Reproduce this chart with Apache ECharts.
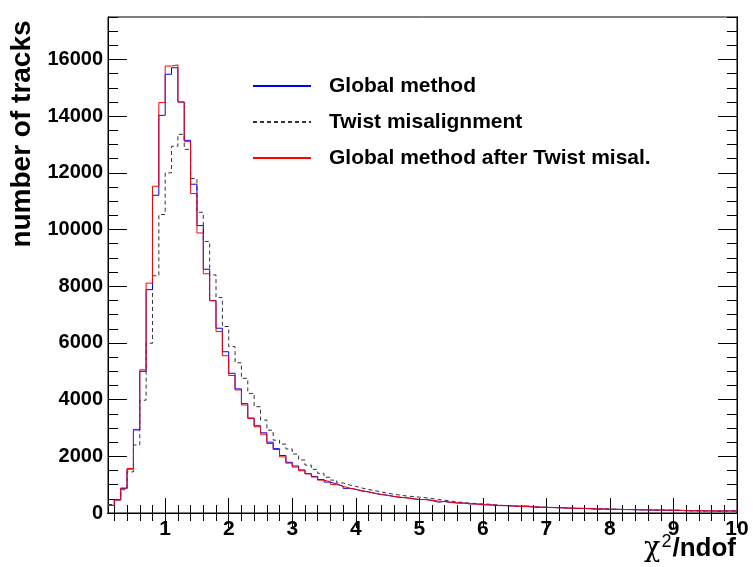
<!DOCTYPE html>
<html>
<head>
<meta charset="utf-8">
<script src="https://cdn.jsdelivr.net/npm/echarts@6/dist/echarts.min.js"></script>
<style>
html,body{margin:0;padding:0;background:#fff;}
#chart{width:753px;height:567px;}
</style>
</head>
<body>
<div id="chart"></div>
<script>
// ---- data ----
const binStart = 0.1;
const binWidth = 0.1;
const xMax = 10;
const yMax = 17500;

const globalMethod = [
  270, 460, 870, 1550, 2930, 5000, 7880, 11210, 14030, 15480,
  15710, 14500, 13150, 11600, 10140, 8600, 7500, 6520, 5690, 4930,
  4380, 3860, 3350, 3080, 2830, 2500, 2270, 2030, 1790, 1660,
  1520, 1390, 1290, 1180, 1090, 1020, 950, 870, 840, 770,
  750, 690, 650, 630, 580, 550, 540, 510, 470, 480,
  440, 380, 410, 370, 350, 350, 320, 320, 290, 290,
  270, 260, 260, 240, 240, 250, 210, 200, 200, 190,
  190, 175, 170, 160, 165, 150, 140, 145, 130, 135,
  120, 125, 115, 110, 112, 100, 105, 98, 95, 95,
  85, 75, 80, 70, 78, 60, 72, 75, 70
];
const twistMisalignment = [
  300, 470, 820, 1450, 2400, 3980, 5990, 8370, 10530, 12000,
  12940, 13360, 12830, 11800, 10610, 9580, 8400, 7600, 6580, 5870,
  5300, 4750, 4220, 3750, 3280, 2920, 2570, 2430, 2260, 2080,
  1870, 1690, 1540, 1400, 1260, 1160, 1060, 990, 940, 880,
  830, 790, 740, 700, 660, 630, 600, 580, 560, 540,
  510, 480, 450, 420, 390, 370, 350, 330, 320, 310,
  290, 270, 260, 250, 240, 230, 220, 210, 200, 195,
  185, 180, 170, 165, 160, 150, 145, 140, 135, 130,
  125, 120, 118, 115, 110, 105, 103, 100, 98, 95,
  80, 78, 76, 75, 74, 73, 72, 72, 70
];
const globalAfterTwist = [
  270, 460, 880, 1570, 2950, 5050, 8110, 11530, 14480, 15770,
  15810, 14500, 13100, 11270, 9880, 8440, 7490, 6400, 5550, 4850,
  4340, 3810, 3340, 3040, 2780, 2450, 2240, 1980, 1760, 1620,
  1490, 1380, 1270, 1160, 1100, 1010, 940, 880, 830, 790,
  740, 700, 660, 620, 590, 560, 530, 500, 480, 470,
  450, 420, 400, 380, 360, 345, 330, 315, 300, 285,
  275, 265, 255, 245, 235, 225, 215, 210, 200, 195,
  185, 180, 170, 165, 160, 150, 145, 140, 135, 130,
  125, 120, 118, 115, 110, 105, 103, 100, 98, 95,
  80, 78, 76, 75, 74, 73, 72, 72, 70
];

const seriesNames = ['Global method', 'Twist misalignment', 'Global method after Twist misal.'];

const xTicks = [1, 2, 3, 4, 5, 6, 7, 8, 9, 10];
const xMinorTicks = [0.2, 0.4, 0.6, 0.8, 1.2, 1.4, 1.6, 1.8, 2.2, 2.4, 2.6, 2.8,
  3.2, 3.4, 3.6, 3.8, 4.2, 4.4, 4.6, 4.8, 5.2, 5.4, 5.6, 5.8, 6.2, 6.4, 6.6, 6.8,
  7.2, 7.4, 7.6, 7.8, 8.2, 8.4, 8.6, 8.8, 9.2, 9.4, 9.6, 9.8];
const yTicks = [0, 2000, 4000, 6000, 8000, 10000, 12000, 14000, 16000];
const yMinorTicks = [500, 1000, 1500, 2500, 3000, 3500, 4500, 5000, 5500, 6500, 7000, 7500,
  8500, 9000, 9500, 10500, 11000, 11500, 12500, 13000, 13500, 14500, 15000, 15500,
  16500, 17000, 17500];

// ---- build histogram outlines (left bin edges + closing edge) ----
function histPoints(values) {
  const pts = values.map((v, i) => [+(binStart + i * binWidth).toFixed(2), v]);
  pts.push([xMax, values[values.length - 1]]);
  return pts;
}

const FONT = 'Liberation Sans';
const chart = echarts.init(document.getElementById('chart'), null, {renderer: 'canvas'});

function xAx(pos, ticks, len, labels) {
  return {
    type: 'value', min: binStart, max: xMax, position: pos,
    axisLine: {show: true, lineStyle: {color: '#000', width: 1}},
    axisTick: {show: true, inside: true, length: len, customValues: ticks, lineStyle: {color: '#000', width: 1}},
    axisLabel: labels ? {show: true, customValues: ticks, fontSize: 21, fontWeight: 'bold', color: '#000', fontFamily: FONT, margin: 6,
      formatter: v => String(v)} : {show: false},
    splitLine: {show: false}
  };
}
function yAx(pos, ticks, len, labels) {
  return {
    type: 'value', min: 0, max: yMax, position: pos,
    axisLine: {show: true, lineStyle: {color: '#000', width: 1}},
    axisTick: {show: true, inside: true, length: len, customValues: ticks, lineStyle: {color: '#000', width: 1}},
    axisLabel: labels ? {show: true, customValues: ticks, fontSize: 20, fontWeight: 'bold', color: '#000', fontFamily: FONT, margin: 5,
      formatter: v => String(v)} : {show: false},
    splitLine: {show: false}
  };
}

chart.setOption({
  animation: false,
  backgroundColor: '#fff',
  grid: {left: 108, top: 17, width: 629, height: 496, show: true, borderColor: '#000', borderWidth: 1, containLabel: false},
  xAxis: [
    xAx('bottom', xTicks, 15, true),
    xAx('bottom', xMinorTicks, 8, false),
    xAx('top', xTicks, 15, false),
    xAx('top', xMinorTicks, 8, false)
  ],
  yAxis: [
    yAx('left', yTicks, 19, true),
    yAx('left', yMinorTicks, 10, false),
    yAx('right', yTicks, 19, false),
    yAx('right', yMinorTicks, 10, false)
  ],
  legend: {
    orient: 'vertical', left: 252, top: 75, padding: 0,
    itemWidth: 58, itemHeight: 14, itemGap: 14,
    data: seriesNames,
    itemStyle: {opacity: 0},
    textStyle: {fontSize: 21, fontWeight: 'bold', color: '#000', fontFamily: FONT, lineHeight: 22, padding: [0, 0, 0, 13]}
  },
  series: [
    {name: seriesNames[0], type: 'line', step: 'end', symbol: 'none', showSymbol: false, z: 3,
     data: histPoints(globalMethod), lineStyle: {color: '#0000ff', width: 1}, itemStyle: {color: '#0000ff'}},
    {name: seriesNames[1], type: 'line', step: 'end', symbol: 'none', showSymbol: false, z: 2,
     data: histPoints(twistMisalignment), lineStyle: {color: '#333', width: 1, type: [4, 3]}, itemStyle: {color: '#333'}},
    {name: seriesNames[2], type: 'line', step: 'end', symbol: 'none', showSymbol: false, z: 4,
     data: histPoints(globalAfterTwist), lineStyle: {color: '#ff0000', width: 1}, itemStyle: {color: '#ff0000'}}
  ],
  graphic: [
    {type: 'text', x: 22, y: 134, rotation: Math.PI / 2,
     style: {text: 'number of tracks', fontSize: 28, fontWeight: 'bold', fontFamily: FONT, fill: '#000', align: 'center', verticalAlign: 'middle'}},
    {type: 'text', x: 736, y: 562,
     style: {text: '{c|χ}{s|2}{n|/ndof}', align: 'right', verticalAlign: 'bottom', fill: '#000',
       rich: {
         c: {fontSize: 27, fontFamily: 'DejaVu Serif', fill: '#000', verticalAlign: 'bottom'},
         s: {fontSize: 18, fontFamily: FONT, fill: '#000', verticalAlign: 'top', padding: [0, 1, 11, 1]},
         n: {fontSize: 26, fontWeight: 'bold', fontFamily: FONT, fill: '#000', verticalAlign: 'bottom'}
       }}}
  ]
});
</script>
</body>
</html>
